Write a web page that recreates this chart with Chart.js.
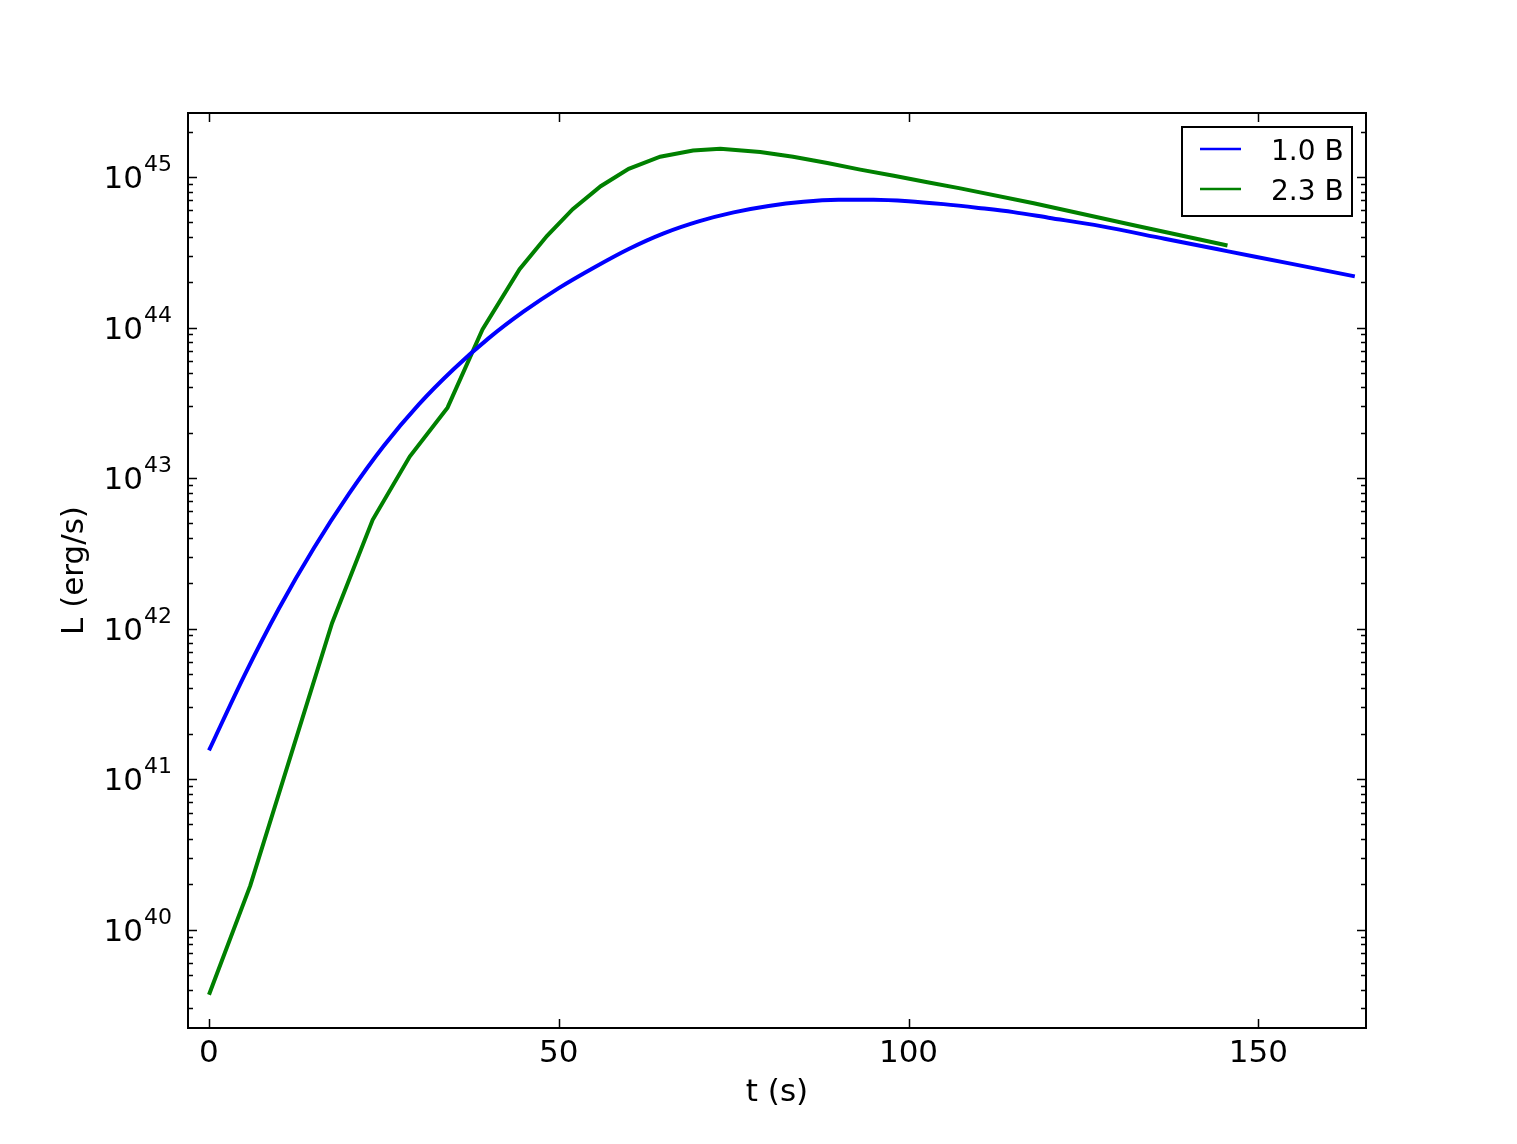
<!DOCTYPE html>
<html>
<head>
<meta charset="utf-8">
<script src="https://cdn.jsdelivr.net/npm/chart.js@4/dist/chart.umd.min.js"></script>
<style>
  html, body { margin: 0; padding: 0; background: #fff; }
  #wrap { width: 1517px; height: 1144px; }
</style>
</head>
<body>
<div id="wrap"><canvas id="c" width="1517" height="1144"></canvas></div>
<script>
// t (s) and L (erg/s)
const blueT = [0, 5, 10, 15, 20, 25, 30, 35, 40, 45, 50, 55, 60, 65, 70, 75, 80, 85, 90, 95, 100, 105, 110, 115, 120, 127.5, 136.6, 145.7, 154.8, 163.8]
const blueL = [1.55e41, 4.82e41, 1.36e42, 3.43e42, 7.85e42, 1.64e43, 3.09e43, 5.31e43, 8.51e43, 1.28e44, 1.83e44, 2.50e44, 3.33e44, 4.23e44, 5.08e44, 5.83e44, 6.43e44, 6.85e44, 7.06e44, 7.08e44, 6.92e44, 6.61e44, 6.24e44, 5.85e44, 5.37e44, 4.72e44, 3.89e44, 3.21e44, 2.65e44, 2.19e44]

const greenT = [0, 5.9, 17.6, 23.4, 28.7, 34.1, 39.1, 44.4, 48.3, 52.0, 56.0, 60.0, 64.5, 69.2, 73.1, 78.8, 83.5, 88.4, 93.1, 97.9, 102.7, 107.4, 117.9, 132.2, 145.6]
const greenL = [3.69e39, 1.96e40, 1.09e42, 5.28e42, 1.39e43, 2.94e43, 9.73e43, 2.44e44, 4.06e44, 6.12e44, 8.69e44, 1.135e45, 1.365e45, 1.50e45, 1.54e45, 1.466e45, 1.365e45, 1.24e45, 1.12e45, 1.02e45, 9.23e44, 8.41e44, 6.70e44, 4.79e44, 3.51e44]

const seriesLabels = ["1.0 B", "2.3 B"]
const seriesColors = ["#0000ff", "#008000"]

const xTicks = [0, 50, 100, 150]
const yExponents = [40, 41, 42, 43, 44, 45]

const FONT = "'DejaVu Sans', sans-serif"

const toPoints = (ts, ls) => ts.map((t, i) => ({ x: t, y: ls[i] }))

// frame, inward ticks, labels and legend, drawn the matplotlib way
const axesPlugin = {
  id: "mplAxes",
  afterDatasetsDraw(chart) {
    const { ctx, chartArea: a, scales } = chart
    const xs = scales.x, ys = scales.y
    ctx.save()

    // ticks
    ctx.strokeStyle = "#000"
    ctx.lineWidth = 1.5
    ctx.beginPath()
    xTicks.forEach((v) => {
      const px = Math.round(xs.getPixelForValue(v)) + 0.5
      ctx.moveTo(px, a.bottom); ctx.lineTo(px, a.bottom - 9)
      ctx.moveTo(px, a.top); ctx.lineTo(px, a.top + 9)
    })
    for (let e = 39; e <= 45; e++) {
      for (let m = 1; m <= 9; m++) {
        const v = m * Math.pow(10, e)
        if (v < ys.min || v > ys.max) continue
        const py = Math.round(ys.getPixelForValue(v)) + 0.5
        const len = m === 1 ? 9 : 5
        ctx.moveTo(a.left, py); ctx.lineTo(a.left + len, py)
        ctx.moveTo(a.right, py); ctx.lineTo(a.right - len, py)
      }
    }
    ctx.stroke()

    // frame
    ctx.lineWidth = 2
    ctx.strokeRect(a.left, a.top, a.right - a.left, a.bottom - a.top)

    // x tick labels
    ctx.fillStyle = "#000"
    ctx.font = `31px ${FONT}`
    ctx.textAlign = "center"
    ctx.textBaseline = "alphabetic"
    xTicks.forEach((v) => {
      ctx.fillText(String(v), xs.getPixelForValue(v), a.bottom + 34)
    })

    // y tick labels 10^n
    yExponents.forEach((e) => {
      const py = ys.getPixelForValue(Math.pow(10, e))
      const right = a.left - 16
      ctx.font = `22px ${FONT}`
      ctx.textAlign = "right"
      const ew = ctx.measureText(String(e)).width
      ctx.fillText(String(e), right, py - 6)
      ctx.font = `31px ${FONT}`
      ctx.fillText("10", right - ew - 1, py + 11)
    })

    // axis titles
    ctx.font = `31px ${FONT}`
    ctx.textAlign = "center"
    ctx.textBaseline = "middle"
    ctx.fillText("t (s)", (a.left + a.right) / 2, 1093)
    ctx.save()
    ctx.translate(75, (a.top + a.bottom) / 2)
    ctx.rotate(-Math.PI / 2)
    ctx.fillText("L (erg/s)", 0, 0)
    ctx.restore()

    // legend
    const bx = 1182, by = 127, bw = 170, bh = 89
    ctx.fillStyle = "#fff"
    ctx.fillRect(bx, by, bw, bh)
    ctx.lineWidth = 2
    ctx.strokeStyle = "#000"
    ctx.strokeRect(bx, by, bw, bh)
    ctx.font = `28px ${FONT}`
    ctx.textAlign = "left"
    ctx.textBaseline = "alphabetic"
    chart.data.datasets.forEach((ds, i) => {
      const ly = 149 + i * 40
      ctx.strokeStyle = ds.borderColor
      ctx.lineWidth = 2.5
      ctx.beginPath()
      ctx.moveTo(1200, ly); ctx.lineTo(1241, ly)
      ctx.stroke()
      ctx.fillStyle = "#000"
      ctx.fillText(ds.label, 1271, ly + 10.5)
    })

    ctx.restore()
  }
}

new Chart(document.getElementById("c"), {
  type: "line",
  data: {
    datasets: [
      {
        label: seriesLabels[0],
        data: toPoints(blueT, blueL),
        borderColor: seriesColors[0],
        borderWidth: 4,
        pointRadius: 0,
        cubicInterpolationMode: "monotone",
        fill: false
      },
      {
        label: seriesLabels[1],
        data: toPoints(greenT, greenL),
        borderColor: seriesColors[1],
        borderWidth: 4,
        pointRadius: 0,
        tension: 0,
        fill: false
      }
    ]
  },
  options: {
    responsive: false,
    animation: false,
    layout: { padding: { top: 113, right: 151, left: 0, bottom: 0 } },
    plugins: { legend: { display: false }, tooltip: { enabled: false } },
    scales: {
      x: {
        type: "linear",
        min: -3,
        max: 165.4,
        grid: { display: false },
        border: { display: false },
        ticks: { display: false },
        afterFit: (s) => { s.height = 116 }
      },
      y: {
        type: "logarithmic",
        min: 2.22e39,
        max: 2.665e45,
        grid: { display: false },
        border: { display: false },
        ticks: { display: false },
        afterFit: (s) => { s.width = 188 }
      }
    }
  },
  plugins: [axesPlugin]
})
</script>
</body>
</html>
